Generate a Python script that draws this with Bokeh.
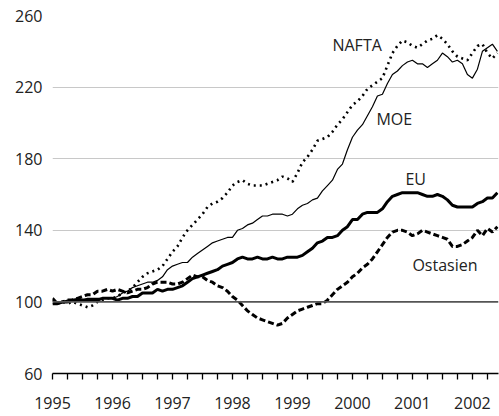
from bokeh.plotting import figure
from bokeh.models import FixedTicker, Span, Label, Range1d, ColumnDataSource
from bokeh.embed import file_html
from bokeh.resources import INLINE

# Monthly index values, Jan 1995 .. Jun 2002 (1995 = 100)
nafta = [101, 99, 100, 99, 100, 99, 98, 97, 98, 100, 101, 102,
         102, 103, 105, 106, 108, 111, 114, 116, 117, 118, 120, 124,
         128, 131, 136, 140, 143, 146, 149, 153, 155, 156, 158, 161,
         165, 167, 168, 166, 165, 165, 165, 166, 167, 168, 170, 169,
         167, 172, 178, 181, 185, 190, 191, 192, 195, 199, 202, 206,
         210, 212, 215, 219, 221, 223, 225, 232, 239, 243, 246, 245,
         243, 242, 244, 246, 247, 249, 247, 244, 240, 237, 236, 235,
         239, 243, 244, 239, 236, 239]
moe = [99, 100, 100, 101, 101, 102, 101, 102, 102, 102, 102, 102,
       102, 103, 105, 106, 108, 109, 110, 111, 111, 112, 114, 118,
       120, 121, 122, 122, 125, 127, 129, 131, 133, 134, 135, 136,
       136, 140, 141, 143, 144, 146, 148, 148, 149, 149, 149, 148,
       149, 152, 154, 155, 157, 158, 162, 165, 168, 174, 177, 185,
       192, 196, 199, 204, 209, 215, 216, 222, 227, 229, 232, 234,
       235, 233, 233, 231, 233, 235, 239, 237, 234, 235, 233, 227,
       225, 230, 240, 242, 244, 240]
eu = [99, 99, 100, 100, 101, 101, 101, 101, 101, 101, 102, 102,
      102, 101, 102, 102, 103, 103, 105, 105, 105, 107, 106, 107,
      107, 108, 109, 111, 113, 114, 115, 116, 117, 118, 120, 121,
      122, 124, 125, 124, 124, 125, 124, 124, 125, 124, 124, 125,
      125, 125, 126, 128, 130, 133, 134, 136, 136, 137, 140, 142,
      146, 146, 149, 150, 150, 150, 152, 156, 159, 160, 161, 161,
      161, 161, 160, 159, 159, 160, 159, 157, 154, 153, 153, 153,
      153, 155, 156, 158, 158, 161]
ostasien = [102, 99, 100, 101, 101, 102, 103, 104, 104, 106, 106, 107,
            106, 107, 106, 105, 106, 107, 107, 108, 110, 111, 111, 111,
            110, 110, 111, 113, 115, 114, 114, 112, 111, 109, 108, 106,
            103, 101, 98, 95, 93, 91, 90, 89, 88, 87, 88, 91,
            93, 95, 96, 97, 98, 99, 99, 101, 104, 107, 109, 111,
            114, 116, 119, 121, 124, 128, 132, 136, 139, 140, 140, 139,
            137, 138, 140, 139, 138, 137, 136, 135, 131, 131, 132, 134,
            136, 140, 137, 141, 139, 142]

years = [1995, 1996, 1997, 1998, 1999, 2000, 2001, 2002]
year_labels = ["1995", "1996", "1997", "1998", "1999", "2000", "2001", "2002"]
y_ticks = [60, 100, 140, 180, 220, 260]
grid_ticks = [140, 180, 220, 260]

t = [1995 + i / 12 for i in range(len(nafta))]
src = ColumnDataSource(dict(t=t, nafta=nafta, moe=moe, eu=eu, ostasien=ostasien))

FONT = "Open Sans"

p = figure(width=499, height=416, output_backend="svg", toolbar_location=None,
           x_range=Range1d(1995, 2002.435), y_range=Range1d(60, 260),
           min_border_left=52, min_border_right=1, min_border_top=15, min_border_bottom=43)
p.outline_line_color = None
p.background_fill_color = "white"
p.border_fill_color = "white"

# x axis
quarters = [y + q / 4 for y in years for q in range(1, 4)]
p.xaxis.ticker = FixedTicker(ticks=years, minor_ticks=quarters)
p.xaxis.major_label_overrides = {y: l for y, l in zip(years, year_labels)}
p.xaxis.axis_line_color = "black"
p.xaxis.axis_line_width = 1.5
p.xaxis.major_tick_line_color = "black"
p.xaxis.minor_tick_line_color = "black"
p.xaxis.major_tick_line_width = 1.3
p.xaxis.minor_tick_line_width = 1.3
p.xaxis.major_tick_in = 0
p.xaxis.minor_tick_in = 0
p.xaxis.major_tick_out = 6
p.xaxis.minor_tick_out = 6
p.xaxis.major_label_standoff = 17
p.xaxis.major_label_text_font = FONT
p.xaxis.major_label_text_font_size = "16px"
p.xaxis.major_label_text_color = "#222222"

# y axis
p.yaxis.ticker = FixedTicker(ticks=y_ticks)
p.yaxis.axis_line_color = None
p.yaxis.major_tick_line_color = None
p.yaxis.minor_tick_line_color = None
p.yaxis.major_tick_out = 0
p.yaxis.major_label_standoff = 10
p.yaxis.major_label_text_font = FONT
p.yaxis.major_label_text_font_size = "16px"
p.yaxis.major_label_text_color = "#222222"

p.xgrid.grid_line_color = None
p.ygrid.ticker = FixedTicker(ticks=grid_ticks)
p.ygrid.grid_line_color = "#c8c8c8"
p.ygrid.grid_line_width = 1

p.add_layout(Span(location=100, dimension="width", line_color="#555555", line_width=1.6))

p.line("t", "ostasien", source=src, line_color="black", line_width=3, line_dash="6 3")
p.line("t", "eu", source=src, line_color="black", line_width=3)
p.line("t", "moe", source=src, line_color="black", line_width=1.2)
p.line("t", "nafta", source=src, line_color="black", line_width=2.6, line_dash="2 4")

labels = [("NAFTA", 1999.667, 243.4), ("MOE", 2000.4, 202.4),
          ("EU", 2000.883, 168.6), ("Ostasien", 2001.0, 120.6)]
for txt, lx, ly in labels:
    p.add_layout(Label(x=lx, y=ly, text=txt, text_font=FONT, text_font_size="16px",
                       text_color="#222222", text_baseline="middle", text_align="left"))

open("out.html", "w").write(file_html(p, INLINE))
